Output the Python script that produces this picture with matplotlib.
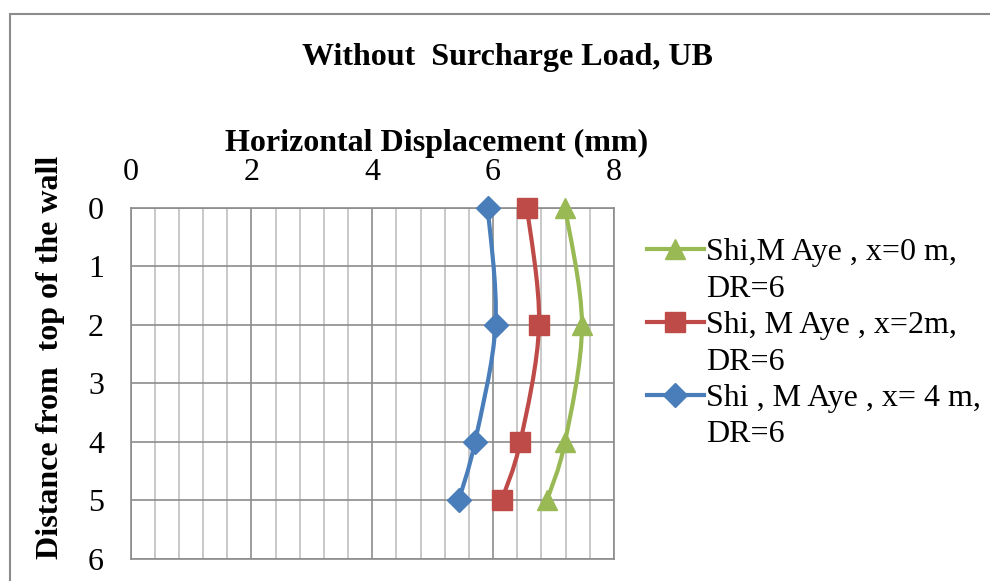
import numpy as np
import matplotlib
matplotlib.use('Agg')
import matplotlib.pyplot as plt
from matplotlib.path import Path
from matplotlib.patches import PathPatch, Rectangle
from matplotlib.lines import Line2D
from matplotlib.ticker import MultipleLocator

plt.rcParams['font.family'] = ['Liberation Serif', 'DejaVu Serif']

# depth below top of wall (m) and horizontal displacement (mm)
depth = [0, 2, 4, 5]
disp_x0 = [7.19, 7.47, 7.19, 6.89]
disp_x2 = [6.56, 6.76, 6.45, 6.14]
disp_x4 = [5.91, 6.04, 5.70, 5.43]

labels = ['Shi,M Aye , x=0 m,', 'Shi, M Aye , x=2m,', 'Shi , M Aye , x= 4 m,']
colors = ['#98B954', '#BE4B48', '#4A7EBB']
markers = ['^', 's', 'D']
msizes = [15, 14.5, 12.5]

FS = 23


def smooth_path(xs, ys):
    # Excel-style smoothed line: cubic bezier through every point
    pts = np.column_stack([xs, ys]).astype(float)
    n = len(pts)
    verts = [pts[0]]
    codes = [Path.MOVETO]
    for i in range(n - 1):
        p0 = pts[i - 1] if i > 0 else pts[i]
        p1, p2 = pts[i], pts[i + 1]
        p3 = pts[i + 2] if i + 2 < n else pts[i + 1]
        c1 = p1 + (p2 - p0) / 6.0
        c2 = p2 - (p3 - p1) / 6.0
        verts += [c1, c2, p2]
        codes += [Path.CURVE4] * 3
    return Path(verts, codes)


fig = plt.figure(figsize=(9.9, 5.81), dpi=100)
fig.patches.append(Rectangle((10 / 990, -0.05), 1.1, 1 - 14 / 581 + 0.05,
                             transform=fig.transFigure, fill=False,
                             edgecolor='#8C8C8C', linewidth=1.5))

ax = fig.add_axes([130.5 / 990, 1 - 559 / 581, 483.5 / 990, 351.5 / 581])
ax.set_xlim(0, 8)
ax.set_ylim(6, 0)
ax.xaxis.set_major_locator(MultipleLocator(2))
ax.xaxis.set_minor_locator(MultipleLocator(0.4))
ax.yaxis.set_major_locator(MultipleLocator(1))
ax.xaxis.tick_top()
ax.grid(which='major', color='#8C8C8C', linewidth=1.2)
ax.grid(which='minor', axis='x', color='#C0C0C0', linewidth=1.2)
ax.set_axisbelow(True)
for s in ax.spines.values():
    s.set_color('#8C8C8C')
    s.set_linewidth(1.2)
ax.tick_params(which='both', length=0, labelsize=FS)
ax.tick_params(axis='x', pad=15)
ax.tick_params(axis='y', pad=19)

series = [disp_x0, disp_x2, disp_x4]
handles = []
for xs, c, m, ms, lab in zip(series, colors, markers, msizes, labels):
    ax.add_patch(PathPatch(smooth_path(xs, depth), facecolor='none',
                           edgecolor=c, linewidth=3.0, zorder=3))
    ax.plot(xs, depth, linestyle='none', marker=m, markersize=ms,
            color=c, zorder=4, clip_on=False)
    handles.append(Line2D([], [], color=c, linewidth=3.0, marker=m,
                          markersize=ms))
    handles.append(Line2D([], [], linestyle='none'))

leg_labels = []
for lab in labels:
    leg_labels += [lab, 'DR=6']

fig.legend(handles, leg_labels, loc='upper left',
           bbox_to_anchor=(647 / 990, 1 - 238 / 581), frameon=False,
           fontsize=FS, handlelength=1.78, handletextpad=0.08,
           labelspacing=0.22, borderaxespad=0, borderpad=0)

fig.text(507 / 990, 1 - 57.5 / 581, 'Without  Surcharge Load, UB',
         ha='center', va='center', fontsize=FS, fontweight='bold')
fig.text(437 / 990, 1 - 143 / 581, 'Horizontal Displacement (mm)',
         ha='center', va='center', fontsize=FS, fontweight='bold')
fig.text(51 / 990, 1 - 357 / 581, 'Distance from  top of the wall',
         ha='center', va='center', rotation=90, fontsize=FS, fontweight='bold')

fig.savefig('out.png', dpi=100)
